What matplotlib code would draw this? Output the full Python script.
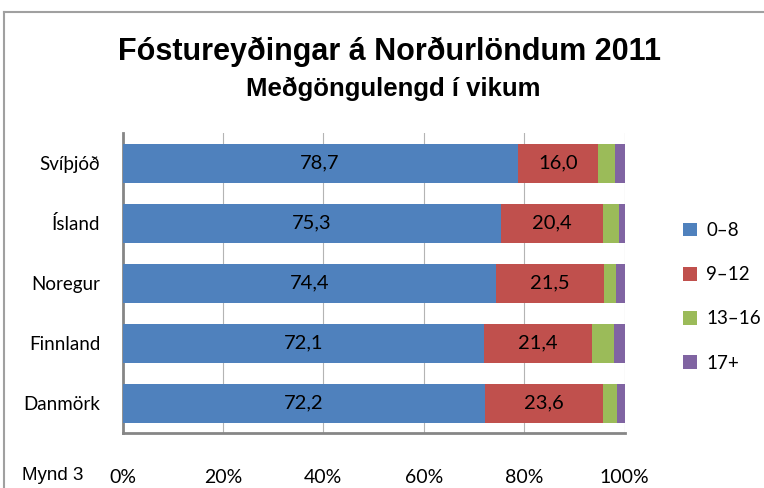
import numpy as np
import matplotlib
matplotlib.use('Agg')
import matplotlib.pyplot as plt
from matplotlib.lines import Line2D

countries = ['Svíþjóð', 'Ísland', 'Noregur', 'Finnland', 'Danmörk']
weeks_0_8 = [78.7, 75.3, 74.4, 72.1, 72.2]
weeks_9_12 = [16.0, 20.4, 21.5, 21.4, 23.6]
weeks_13_16 = [3.4, 3.2, 2.4, 4.4, 2.8]
weeks_17 = [1.9, 1.1, 1.7, 2.1, 1.4]
series_labels = ['0–8', '9–12', '13–16', '17+']
colors = ['#4f81bd', '#c0504d', '#9bbb59', '#8064a2']
xticks = [0, 20, 40, 60, 80, 100]

title_font = 'Liberation Sans'
body = 'Lato'

fig = plt.figure(figsize=(7.64, 4.88), dpi=100)
ax = fig.add_axes([122.5 / 764, 55 / 488, 502 / 764, 300 / 488])

y = np.arange(len(countries))
left = np.zeros(len(countries))
for vals, col, lab in zip([weeks_0_8, weeks_9_12, weeks_13_16, weeks_17], colors, series_labels):
    vals = np.array(vals)
    ax.barh(y, vals, left=left, height=0.65, color=col, label=lab, zorder=3)
    left = left + vals

# value labels on the two main segments
for i in range(len(countries)):
    ax.text(weeks_0_8[i] / 2, y[i], f'{weeks_0_8[i]:.1f}'.replace('.', ','),
            ha='center', va='center', fontsize=14.5, family=body, zorder=4)
    ax.text(weeks_0_8[i] + weeks_9_12[i] / 2, y[i], f'{weeks_9_12[i]:.1f}'.replace('.', ','),
            ha='center', va='center', fontsize=14.5, family=body, zorder=4)

ax.set_xlim(0, 100)
ax.set_ylim(len(countries) - 0.5, -0.5)
ax.set_xticks(xticks)
ax.set_xticklabels([f'{t}%' for t in xticks], family=body, fontsize=14)
ax.set_yticks(y)
ax.set_yticklabels(countries, family=body, fontsize=13.5)
ax.tick_params(axis='x', length=0, pad=26)
ax.tick_params(axis='y', length=0, pad=16)
ax.grid(axis='x', color='#b4b4b4', linewidth=0.8, zorder=0)
for s in ['top', 'right']:
    ax.spines[s].set_visible(False)
for s in ['left', 'bottom']:
    ax.spines[s].set_color('#868686')
    ax.spines[s].set_linewidth(2)

ax.legend(loc='upper left', bbox_to_anchor=(683 / 764, 1 - 222 / 488), bbox_transform=fig.transFigure,
          frameon=False, prop={'family': body, 'size': 13.5}, handlelength=0.75, handleheight=0.75,
          labelspacing=1.45, handletextpad=0.5, borderpad=0, borderaxespad=0)

fig.text(390 / 764, 1 - 52 / 488, 'Fóstureyðingar á Norðurlöndum 2011', ha='center', va='center',
         fontsize=22, fontweight='bold', family=title_font)
fig.text(393 / 764, 1 - 89 / 488, 'Meðgöngulengd í vikum', ha='center', va='center',
         fontsize=18.5, fontweight='bold', family=title_font)
fig.text(22 / 764, 1 - 476 / 488, 'Mynd 3', ha='left', va='center', fontsize=13.5, family='Liberation Sans')

# outer frame of the chart box
fig.add_artist(Line2D([4 / 764, 4 / 764], [0, 1 - 12 / 488], transform=fig.transFigure, color='#a0a0a0', lw=1.5))
fig.add_artist(Line2D([4 / 764, 1], [1 - 12 / 488, 1 - 12 / 488], transform=fig.transFigure, color='#a0a0a0', lw=1.5))

fig.savefig('out.png', dpi=100)
